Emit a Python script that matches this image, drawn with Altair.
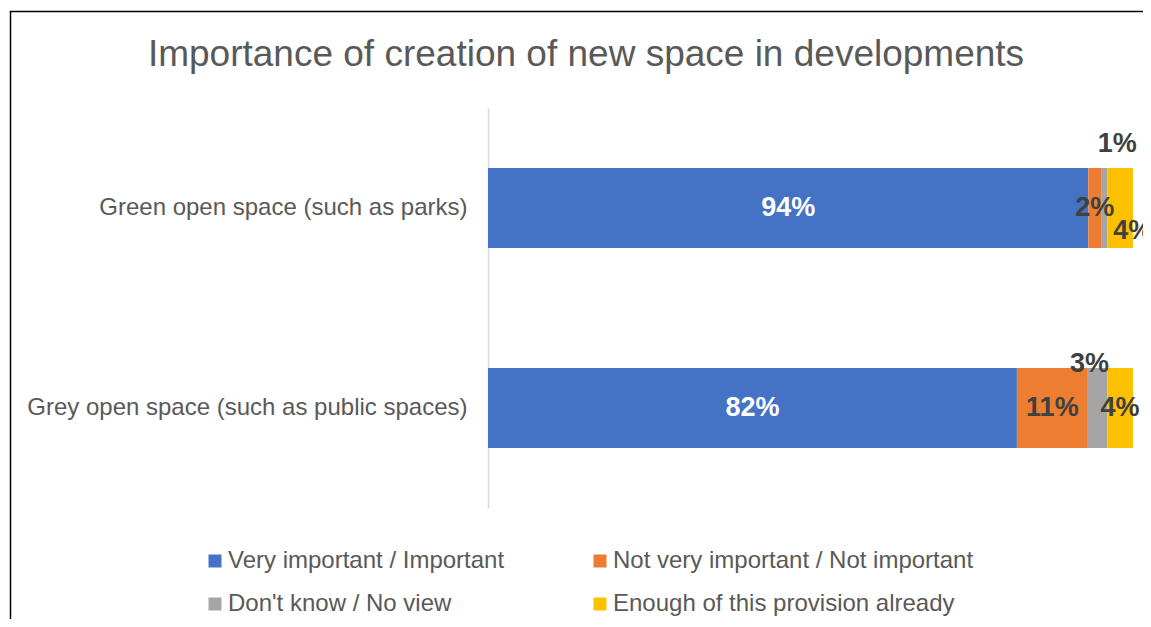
import altair as alt
import pandas as pd

categories = ["Green open space (such as parks)", "Grey open space (such as public spaces)"]
series = [
    "Very important / Important",
    "Not very important / Not important",
    "Don't know / No view",
    "Enough of this provision already",
]
green_values = [94, 2, 1, 4]
grey_values = [82, 11, 3, 4]
colors = ["#4472C4", "#ED7D31", "#A5A5A5", "#FFC000"]

rows = []
for cat, vals in zip(categories, [green_values, grey_values]):
    for i, (s, v) in enumerate(zip(series, vals)):
        rows.append({"category": cat, "series": s, "order": i, "value": v})
df = pd.DataFrame(rows)

FONT = "Liberation Sans"

base = alt.Chart(df).transform_stack(
    stack="value",
    groupby=["category"],
    as_=["x0", "x1"],
    offset="normalize",
    sort=[alt.SortField("order", order="ascending")],
).transform_calculate(
    mid="(datum.x0 + datum.x1) / 2",
    label="datum.value + '%'",
)

y_enc = alt.Y(
    "category:N",
    sort=categories,
    scale=alt.Scale(paddingInner=0.6, paddingOuter=0.3),
    axis=alt.Axis(
        title=None,
        ticks=False,
        domainColor="#D9D9D9",
        domainWidth=1.5,
        labelFont=FONT,
        labelFontSize=24,
        labelColor="#595959",
        labelPadding=21,
        labelLimit=600,
    ),
)
x_scale = alt.Scale(domain=[0, 1])

bars = base.mark_bar().encode(
    y=y_enc,
    x=alt.X("x0:Q", scale=x_scale, axis=None),
    x2="x1:Q",
    color=alt.Color(
        "series:N",
        sort=series,
        scale=alt.Scale(domain=series, range=colors),
        legend=alt.Legend(
            title=None,
            orient="none",
            direction="horizontal",
            legendX=-285,
            legendY=441,
            columns=2,
            columnPadding=83,
            rowPadding=19,
            symbolType="square",
            symbolSize=169,
            symbolStrokeWidth=0,
            labelFont=FONT,
            labelFontSize=24,
            labelColor="#595959",
            labelOffset=1,
            labelLimit=600,
        ),
    ),
)

def labels(cond, color, dx=0, dy=0):
    return base.transform_filter(cond).mark_text(
        font=FONT, fontSize=27, fontWeight="bold", color=color, dx=dx, dy=dy
    ).encode(
        x=alt.X("mid:Q", scale=x_scale),
        y=alt.Y("category:N", sort=categories),
        text="label:N",
    )

s0, s1, s2, s3 = series
c0, c1 = categories
first = labels(alt.datum.series == s0, "white")
plain = labels(
    f"datum.series != '{s0}' && !(datum.category == '{c0}' && (datum.series == \"{s2}\" || datum.series == '{s3}')) && !(datum.category == '{c1}' && datum.series == \"{s2}\")",
    "#404040",
)
g_dk = labels(f"datum.category == '{c0}' && datum.series == \"{s2}\"", "#404040", dx=13, dy=-64)
g_en = labels(f"datum.category == '{c0}' && datum.series == '{s3}'", "#404040", dx=12.5, dy=23)
r_dk = labels(f"datum.category == '{c1}' && datum.series == \"{s2}\"", "#404040", dx=-8, dy=-44.5)

frame = alt.Chart(pd.DataFrame({"k": [0]})).mark_rect(
    filled=False, stroke="black", strokeWidth=1.5
).encode(
    x=alt.value(-477.5), y=alt.value(-96.5), x2=alt.value(900), y2=alt.value(900)
)

chart = alt.layer(frame, bars, first, plain, g_dk, g_en, r_dk).properties(
    width=645,
    height=400,
    autosize=alt.AutoSizeParams(type="none"),
    padding={"left": 480, "top": 100, "right": 10, "bottom": 111},
    title=alt.TitleParams(
        "Importance of creation of new space in developments",
        font=FONT,
        fontSize=37,
        fontWeight="normal",
        color="#595959",
        anchor="middle",
        dx=-224.5,
        offset=-100.5,
        baseline="bottom",
    ),
).configure_view(stroke=None)

chart.save("out.html", embed_options={"renderer": "svg", "actions": False})
